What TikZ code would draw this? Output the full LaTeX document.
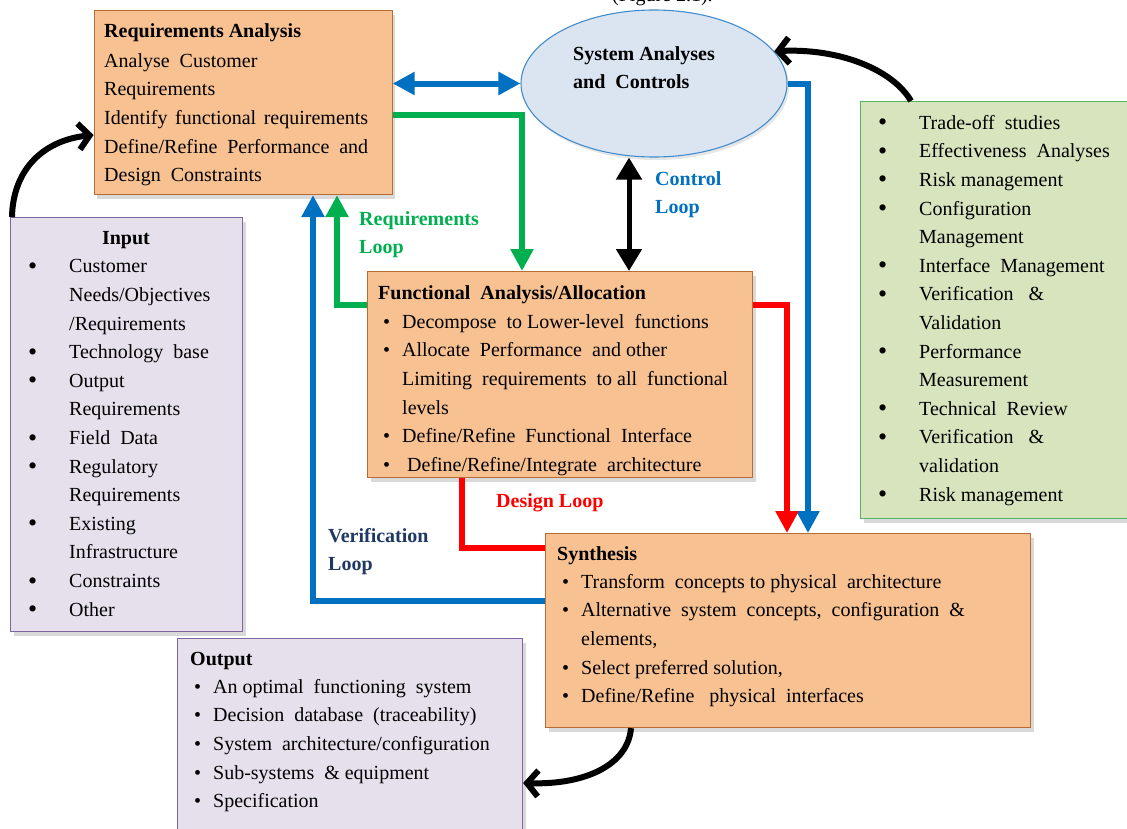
\documentclass[tikz,border=0pt]{standalone}
\usepackage{fontspec}
\setmainfont{Liberation Serif}
\usetikzlibrary{arrows.meta,shapes.geometric,shadows,calc}

\definecolor{boxorange}{RGB}{248,193,146}
\definecolor{boxorangeline}{RGB}{182,108,50}
\definecolor{boxpurple}{RGB}{229,224,236}
\definecolor{boxpurpleline}{RGB}{128,100,162}
\definecolor{boxgreen}{RGB}{215,228,189}
\definecolor{boxgreenline}{RGB}{80,180,100}
\definecolor{ellfill}{RGB}{219,229,242}
\definecolor{ellline}{RGB}{65,140,205}
\definecolor{linkblue}{RGB}{0,112,192}
\definecolor{linkgreen}{RGB}{0,176,80}
\definecolor{linkred}{RGB}{255,0,0}
\definecolor{verifnavy}{RGB}{31,56,100}

% first-line strut, so a body node's top sits 16pt above its first baseline
\newcommand\fst{\rule{0pt}{16pt}}
\newcommand\bigbul{\makebox[41pt][l]{\raisebox{-1.5pt}{\fontsize{26}{28}\selectfont\textbullet}}}
\newcommand\bigind{\hspace*{41pt}}
\newcommand\smbul{\makebox[19pt][l]{\textbullet}}
\newcommand\smind{\hspace*{19pt}}

\begin{document}
\begin{tikzpicture}[x=1pt,y=-1pt,
  >={Triangle[width=22pt,length=22pt]},
  box/.style={draw, line width=1.1pt, inner sep=0pt, anchor=north west,
    drop shadow={shadow xshift=3pt, shadow yshift=-4pt, opacity=0.3}},
  orangebox/.style={box, fill=boxorange, draw=boxorangeline},
  purplebox/.style={box, fill=boxpurple, draw=boxpurpleline},
  greenbox/.style={box, fill=boxgreen, draw=boxgreenline},
  body/.style={font=\fontsize{20}{28.6}\selectfont, align=left, inner sep=0pt, anchor=north west},
  ttl/.style={font=\fontsize{20}{28.6}\selectfont\bfseries, inner sep=0pt, anchor=base west},
  looplabel/.style={font=\fontsize{20}{28}\selectfont\bfseries, align=left, inner sep=0pt, anchor=north west},
  conn/.style={line width=6pt, line join=miter},
  curl/.style={line width=6pt, black, -{Straight Barb[length=11pt,width=26pt]}}
]
\useasboundingbox (0,0) rectangle (1127,828);
\clip (0,0) rectangle (1127,828);

% caption line above the diagram, cut by the page edge
\node[font=\fontsize{20}{24}\selectfont, inner sep=0pt, anchor=base west] (cap) at (612,1) {(Figure 2.1).};

% ---- boxes ----
\node[orangebox, minimum width=298pt, minimum height=184pt] (ra) at (93.6,10) {};
\node[ellipse, draw=ellline, fill=ellfill, line width=1.1pt, inner sep=0pt,
      minimum width=266pt, minimum height=147pt,
      drop shadow={shadow xshift=2pt, shadow yshift=-3pt, opacity=0.2}] (sac) at (654,83.5) {};
\node[orangebox, minimum width=385pt, minimum height=206pt] (fa) at (367,271) {};
\node[orangebox, minimum width=485pt, minimum height=194pt] (syn) at (545,533) {};
\node[purplebox, minimum width=232pt, minimum height=414pt] (inp) at (10,217) {};
\node[purplebox, minimum width=345pt, minimum height=212pt] (outp) at (177,638) {};
\node[greenbox, minimum width=280pt, minimum height=417pt] (gb) at (860,101) {};

% ---- box texts ----
\node[ttl] (ra-title) at (104,37) {Requirements Analysis};
\node[body] (ra-body) at (104,51) {\fst Analyse\ \ Customer\\
  Requirements\\
  \makebox[264pt][s]{Identify functional requirements}\\
  \makebox[264pt][s]{Define/Refine Performance and}\\
  Design\ \ Constraints};

\node[body, font=\fontsize{20}{28}\selectfont\bfseries] (sac-text) at (573,44)
  {\fst System Analyses\\ and\ \ Controls};

\node[ttl] (fa-title) at (378,299) {Functional\ \ Analysis/Allocation};
\node[body] (fa-body) at (383,312) {\fst\smbul Decompose\ \ to Lower-level\ \ functions\\
  \smbul Allocate\ \ Performance\ \ and other\\
  \smind Limiting\ \ requirements\ \ to all\ \ functional\\
  \smind levels\\
  \smbul Define/Refine\ \ Functional\ \ Interface\\
  \smbul\ Define/Refine/Integrate\ \ architecture};

\node[ttl] (syn-title) at (557,560) {Synthesis};
\node[body] (syn-body) at (562,572) {\fst\smbul Transform\ \ concepts to physical\ \ architecture\\
  \smbul Alternative\ \ system\ \ concepts,\ \ configuration\ \ \&\\
  \smind elements,\\
  \smbul Select preferred solution,\\
  \smbul Define/Refine\ \ \ physical\ \ interfaces};

\node[ttl, anchor=base] (inp-title) at (126,244) {Input};
\node[body] (inp-body) at (28,256.7) {\fst\bigbul Customer\\
  \bigind Needs/Objectives\\
  \bigind /Requirements\\
  \bigbul Technology\ \ base\\
  \bigbul Output\\
  \bigind Requirements\\
  \bigbul Field\ \ Data\\
  \bigbul Regulatory\\
  \bigind Requirements\\
  \bigbul Existing\\
  \bigind Infrastructure\\
  \bigbul Constraints\\
  \bigbul Other};

\node[ttl] (outp-title) at (190,665) {Output};
\node[body] (outp-body) at (194,677) {\fst\smbul An optimal\ \ functioning\ \ system\\
  \smbul Decision\ \ database\ \ (traceability)\\
  \smbul System\ \ architecture/configuration\\
  \smbul Sub-systems\ \ \&\ equipment\\
  \smbul Specification};

\node[body] (gb-body) at (878,113) {\fst\bigbul Trade-off\ \ studies\\
  \bigbul Effectiveness\ \ Analyses\\
  \bigbul Risk management\\
  \bigbul Configuration\\
  \bigind Management\\
  \bigbul Interface\ \ Management\\
  \bigbul Verification\ \ \ \&\\
  \bigind Validation\\
  \bigbul Performance\\
  \bigind Measurement\\
  \bigbul Technical\ \ Review\\
  \bigbul Verification\ \ \ \&\\
  \bigind validation\\
  \bigbul Risk management};

% ---- loop labels ----
\node[looplabel, text=linkgreen] (req-loop) at (359,209) {\fst Requirements\\ Loop};
\node[looplabel, text=linkblue] (ctl-loop) at (655,169) {\fst Control\\ Loop};
\node[looplabel, text=linkred] (des-loop) at (496,491) {\fst Design Loop};
\node[looplabel, text=verifnavy] (ver-loop) at (328,526) {\fst Verification\\ Loop};

% ---- loop connectors ----
\draw[conn, linkblue, <->] (sac.west -| ra.east) -- (sac.west);
\draw[conn, linkgreen, ->] (ra.east |- 0,115) -| (522,0 |- fa.north);
\draw[conn, linkgreen, ->] (fa.west |- 0,305) -| (337,0 |- ra.south);
\draw[conn, linkblue, ->] (syn.west |- 0,601) -| (313,0 |- ra.south);
\draw[conn, line width=5pt, black, <->, >={Triangle[width=25pt,length=22pt]}]
  (629,0 |- sac.south) -- (629,0 |- fa.north);
\draw[conn, linkblue, ->] (sac.east) -| (808,0 |- syn.north);
\draw[conn, linkred, ->] (fa.east |- 0,305) -| (787,0 |- syn.north);
\draw[conn, linkred] (462,0 |- fa.south) |- (syn.west |- 0,548);

% ---- input / output curls ----
\draw[curl] (12,0 |- inp.north) .. controls (13,168) and (45,140) .. (ra.west |- 0,135);
\draw[curl] (911,0 |- gb.north) .. controls (893,70) and (840,48) .. (sac.15);
\draw[curl] (631,0 |- syn.south) .. controls (628,765) and (585,785) .. (outp.east |- 0,783);
\end{tikzpicture}
\end{document}
